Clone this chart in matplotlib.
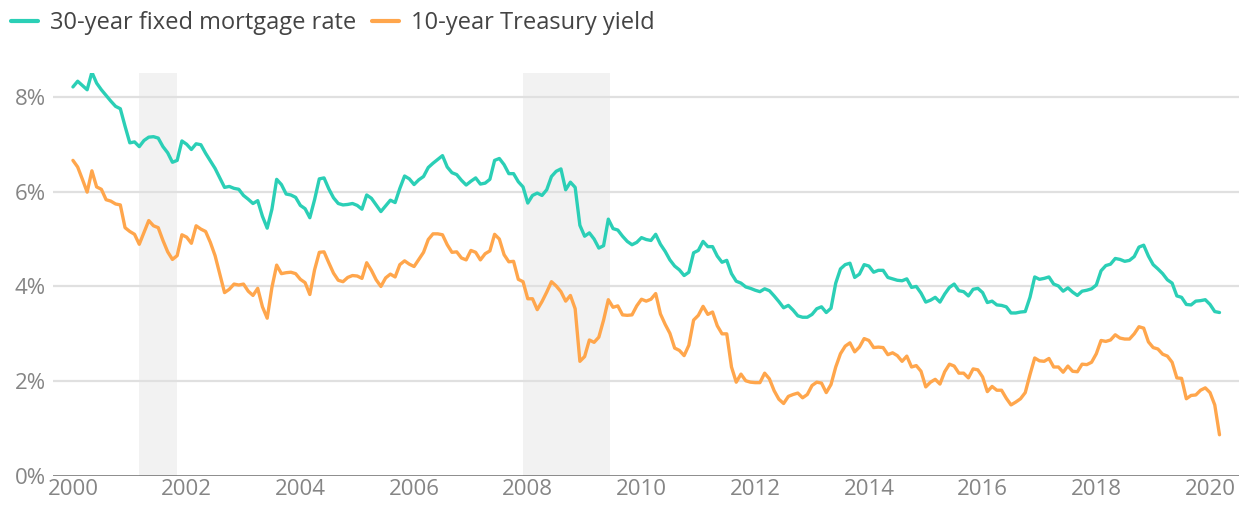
import matplotlib
matplotlib.use("Agg")
import matplotlib.pyplot as plt
import numpy as np

plt.rcParams['font.family'] = ['Open Sans', 'DejaVu Sans']

start_year = 2000
mortgage_30y = [
    8.21, 8.33, 8.24, 8.15, 8.52, 8.29, 8.15, 8.03, 7.91, 7.80, 7.75, 7.38,
    7.03, 7.05, 6.95, 7.08, 7.15, 7.16, 7.13, 6.95, 6.82, 6.62, 6.66, 7.07,
    7.00, 6.89, 7.01, 6.99, 6.81, 6.65, 6.49, 6.29, 6.09, 6.11, 6.07, 6.05,
    5.92, 5.84, 5.75, 5.81, 5.48, 5.23, 5.63, 6.26, 6.15, 5.95, 5.93, 5.88,
    5.71, 5.64, 5.45, 5.83, 6.27, 6.29, 6.06, 5.87, 5.75, 5.72, 5.73, 5.75,
    5.71, 5.63, 5.93, 5.86, 5.72, 5.58, 5.70, 5.82, 5.77, 6.07, 6.33, 6.27,
    6.15, 6.25, 6.32, 6.51, 6.60, 6.68, 6.76, 6.52, 6.40, 6.36, 6.24, 6.14,
    6.22, 6.29, 6.16, 6.18, 6.26, 6.66, 6.70, 6.57, 6.38, 6.38, 6.21, 6.10,
    5.76, 5.92, 5.97, 5.92, 6.04, 6.32, 6.43, 6.48, 6.04, 6.20, 6.09, 5.29,
    5.06, 5.13, 5.00, 4.81, 4.86, 5.42, 5.22, 5.19, 5.06, 4.95, 4.88, 4.93,
    5.03, 4.99, 4.97, 5.10, 4.89, 4.74, 4.56, 4.43, 4.35, 4.23, 4.30, 4.71,
    4.76, 4.95, 4.84, 4.84, 4.64, 4.51, 4.55, 4.27, 4.11, 4.07, 3.99, 3.96,
    3.92, 3.89, 3.95, 3.91, 3.80, 3.68, 3.55, 3.60, 3.50, 3.38, 3.35, 3.35,
    3.41, 3.53, 3.57, 3.45, 3.54, 4.07, 4.37, 4.46, 4.49, 4.19, 4.26, 4.46,
    4.43, 4.30, 4.34, 4.34, 4.19, 4.16, 4.13, 4.12, 4.16, 3.98, 4.00, 3.86,
    3.67, 3.71, 3.77, 3.67, 3.84, 3.98, 4.05, 3.91, 3.89, 3.80, 3.94, 3.96,
    3.87, 3.66, 3.69, 3.61, 3.60, 3.57, 3.44, 3.44, 3.46, 3.47, 3.77, 4.20,
    4.15, 4.17, 4.20, 4.05, 4.01, 3.90, 3.97, 3.88, 3.81, 3.90, 3.92, 3.95,
    4.03, 4.33, 4.44, 4.47, 4.59, 4.57, 4.53, 4.55, 4.63, 4.83, 4.87, 4.64,
    4.46, 4.37, 4.27, 4.14, 4.07, 3.80, 3.77, 3.62, 3.61, 3.69, 3.70, 3.72,
    3.62, 3.47, 3.45,
]
treasury_10y = [
    6.66, 6.52, 6.26, 5.99, 6.44, 6.10, 6.05, 5.83, 5.80, 5.74, 5.72, 5.24,
    5.16, 5.10, 4.89, 5.14, 5.39, 5.28, 5.24, 4.97, 4.73, 4.57, 4.65, 5.09,
    5.04, 4.91, 5.28, 5.21, 5.16, 4.93, 4.65, 4.26, 3.87, 3.94, 4.05, 4.03,
    4.05, 3.90, 3.81, 3.96, 3.57, 3.33, 3.98, 4.45, 4.27, 4.29, 4.30, 4.27,
    4.15, 4.08, 3.83, 4.35, 4.72, 4.73, 4.50, 4.28, 4.13, 4.10, 4.19, 4.23,
    4.22, 4.17, 4.50, 4.34, 4.14, 4.00, 4.18, 4.26, 4.20, 4.46, 4.54, 4.47,
    4.42, 4.57, 4.72, 4.99, 5.11, 5.11, 5.09, 4.88, 4.72, 4.73, 4.60, 4.56,
    4.76, 4.72, 4.56, 4.69, 4.75, 5.10, 5.00, 4.67, 4.52, 4.53, 4.15, 4.10,
    3.74, 3.74, 3.51, 3.68, 3.88, 4.10, 4.01, 3.89, 3.69, 3.81, 3.53, 2.42,
    2.52, 2.87, 2.82, 2.93, 3.29, 3.72, 3.56, 3.59, 3.40, 3.39, 3.40, 3.59,
    3.73, 3.69, 3.73, 3.85, 3.42, 3.20, 3.01, 2.70, 2.65, 2.54, 2.76, 3.29,
    3.39, 3.58, 3.41, 3.46, 3.17, 3.00, 3.00, 2.30, 1.98, 2.15, 2.01, 1.98,
    1.97, 1.97, 2.17, 2.05, 1.80, 1.62, 1.53, 1.68, 1.72, 1.75, 1.65, 1.72,
    1.91, 1.98, 1.96, 1.76, 1.93, 2.30, 2.58, 2.74, 2.81, 2.62, 2.72, 2.90,
    2.86, 2.71, 2.72, 2.71, 2.56, 2.60, 2.54, 2.42, 2.53, 2.30, 2.33, 2.21,
    1.88, 1.98, 2.04, 1.94, 2.20, 2.36, 2.32, 2.17, 2.17, 2.07, 2.26, 2.24,
    2.09, 1.78, 1.89, 1.81, 1.81, 1.64, 1.50, 1.56, 1.63, 1.76, 2.14, 2.49,
    2.43, 2.42, 2.48, 2.30, 2.30, 2.19, 2.32, 2.21, 2.20, 2.36, 2.35, 2.40,
    2.58, 2.86, 2.84, 2.87, 2.98, 2.91, 2.89, 2.89, 3.00, 3.15, 3.12, 2.83,
    2.71, 2.68, 2.57, 2.53, 2.40, 2.07, 2.06, 1.63, 1.70, 1.71, 1.81, 1.86,
    1.76, 1.50, 0.87,
]
recessions = [(2001.17, 2001.83), (2007.92, 2009.45)]
x_ticks = [2000, 2002, 2004, 2006, 2008, 2010, 2012, 2014, 2016, 2018, 2020]
y_ticks = [0, 2, 4, 6, 8]
series_names = ["30-year fixed mortgage rate", "10-year Treasury yield"]

teal = "#2bcfb6"
orange = "#ffa64c"

x = start_year + np.arange(len(mortgage_30y)) / 12.0

fig = plt.figure(figsize=(12.48, 5.12), dpi=100)
ax = fig.add_axes([0.0425, 0.0703, 0.9503, 0.7877])

for a, b in recessions:
    ax.axvspan(a, b, color="#f2f2f2", zorder=0, lw=0)

for yv in y_ticks[1:]:
    ax.axhline(yv, color="#e0e0e0", lw=1.6, zorder=1)
ax.axhline(0, color="#6b6b6b", lw=1.8, zorder=3)

l1, = ax.plot(x, mortgage_30y, color=teal, lw=2.4, zorder=4,
              solid_joinstyle="round", solid_capstyle="round")
l2, = ax.plot(x, treasury_10y, color=orange, lw=2.4, zorder=4,
              solid_joinstyle="round", solid_capstyle="round")

ax.set_xlim(1999.65, 2020.51)
ax.set_ylim(0, 8.51)
ax.set_xticks(x_ticks)
ax.set_xticklabels([str(t) for t in x_ticks])
ax.set_yticks(y_ticks)
ax.set_yticklabels([f"{t}%" for t in y_ticks])
ax.tick_params(axis="both", length=0, labelsize=16, colors="#858585")
ax.tick_params(axis="y", pad=5)
ax.tick_params(axis="x", pad=2)
for s in ax.spines.values():
    s.set_visible(False)

leg = fig.legend([l1, l2], series_names, loc="upper left",
                 bbox_to_anchor=(0.007, 0.983), ncol=2, frameon=False,
                 fontsize=17, handlelength=1.15, handletextpad=0.5,
                 columnspacing=0.65, borderaxespad=0.0, borderpad=0.1)
for t in leg.get_texts():
    t.set_color("#444444")
for h in leg.get_lines():
    h.set_linewidth(3)

fig.savefig("out.png", dpi=100, facecolor="white")
